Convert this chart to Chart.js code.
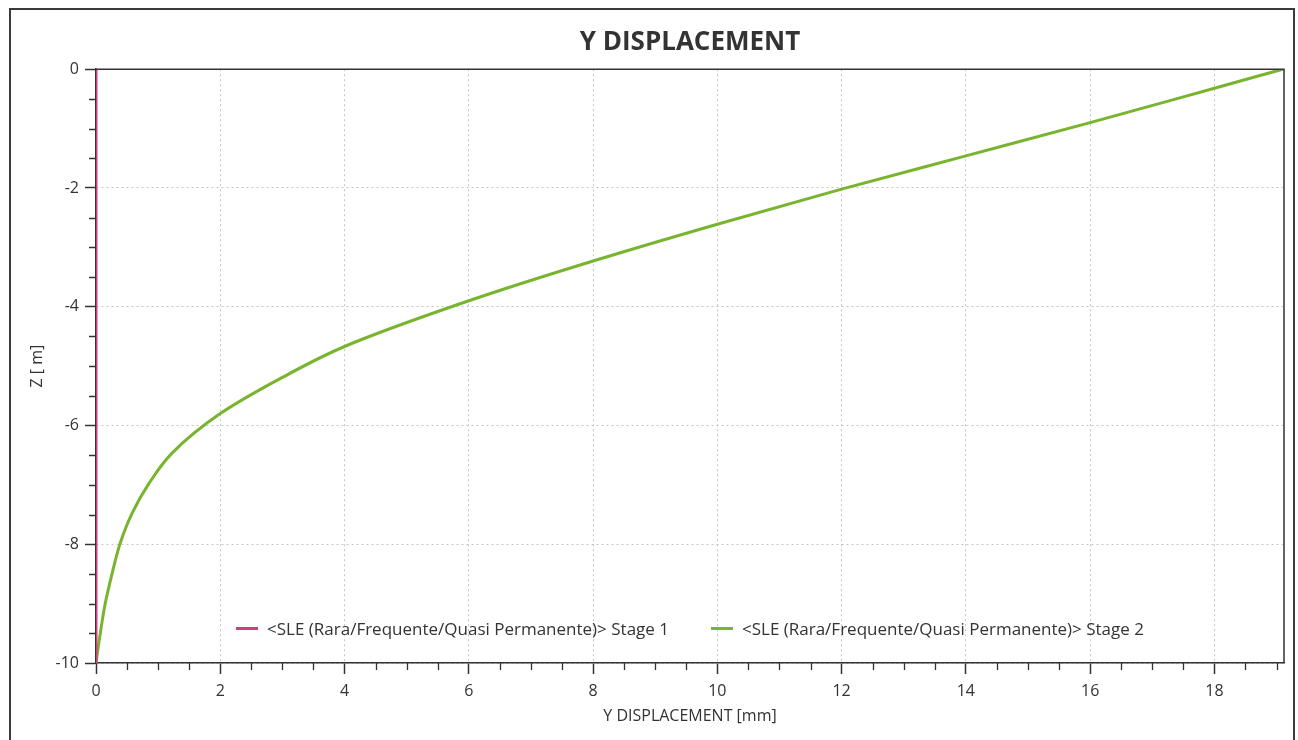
<!DOCTYPE html>
<html>
<head>
<meta charset="utf-8">
<title>Y DISPLACEMENT</title>
<script src="https://cdn.jsdelivr.net/npm/chart.js@4.4.0/dist/chart.umd.min.js"></script>
<style>
  html, body { margin: 0; padding: 0; background: #fff; }
  #frame {
    position: absolute; left: 9px; top: 8px; width: 1286px; height: 780px;
    border: 2px solid #3a3a3a; box-sizing: border-box;
  }
  #wrap { position: absolute; left: 0; top: 0; width: 1298px; height: 740px; }
  #legend {
    position: absolute; left: 96px; width: 1188px; top: 617px;
    display: flex; justify-content: center; gap: 42px;
    font-family: "Open Sans", sans-serif; font-size: 17px; color: #333;
  }
  .item { display: flex; align-items: center; white-space: nowrap; }
  .swatch { width: 22px; height: 3px; margin-right: 9px; }
</style>
</head>
<body>
<div id="frame"></div>
<div id="wrap"><canvas id="dispChart"></canvas></div>
<div id="legend"></div>
<script>
// Z levels along the pile [m] and Y displacement for each stage [mm]
const zLevels    = [0, -0.32, -0.9, -1.46, -2.02, -2.61, -3.23, -3.9, -4.67, -5.19, -5.8, -6.47, -6.98, -7.48, -7.98, -8.49, -8.99, -9.49, -10];
const stage1Disp = [0, 0, 0, 0, 0, 0, 0, 0, 0, 0, 0, 0, 0, 0, 0, 0, 0, 0, 0];
const stage2Disp = [19.1, 18, 16, 14, 12, 10, 8, 6, 4, 3, 2, 1.22, 0.85, 0.58, 0.39, 0.26, 0.15, 0.07, 0];
const seriesNames = [
  "<SLE (Rara/Frequente/Quasi Permanente)> Stage 1",
  "<SLE (Rara/Frequente/Quasi Permanente)> Stage 2"
];
const seriesColors = ["#d63c7d", "#78b42e"];

const FONT = "'Open Sans', sans-serif";

function toPoints(disp) {
  return disp.map((d, i) => ({ x: d, y: zLevels[i] }));
}

// frame on top/right of plot + minor tick marks every 0.5
const plotFrame = {
  id: "plotFrame",
  afterDraw(chart) {
    const { ctx, chartArea: a, scales } = chart;
    ctx.save();
    ctx.strokeStyle = "#333";
    ctx.lineWidth = 1.5;
    ctx.beginPath();
    ctx.moveTo(a.left, a.top);
    ctx.lineTo(a.right, a.top);
    ctx.lineTo(a.right, a.bottom);
    ctx.stroke();

    ctx.lineWidth = 1.3;
    ctx.beginPath();
    for (let v = 0.5; v <= scales.x.max + 1e-6; v += 0.5) {
      if (v % 2 === 0) continue;
      const px = Math.round(scales.x.getPixelForValue(v)) + 0.5;
      ctx.moveTo(px, a.bottom);
      ctx.lineTo(px, a.bottom + 7);
    }
    for (let v = -0.5; v >= scales.y.min - 1e-6; v -= 0.5) {
      if (v % 2 === 0) continue;
      const py = Math.round(scales.y.getPixelForValue(v)) + 0.5;
      ctx.moveTo(a.left, py);
      ctx.lineTo(a.left - 7, py);
    }
    ctx.stroke();
    ctx.restore();
  }
};

const ctxDisp = document.getElementById("dispChart").getContext("2d");
const dispChart = new Chart(ctxDisp, {
  type: "line",
  data: {
    datasets: [
      {
        label: seriesNames[0],
        data: toPoints(stage1Disp),
        borderColor: seriesColors[0],
        backgroundColor: seriesColors[0],
        borderWidth: 3,
        pointRadius: 0,
      },
      {
        label: seriesNames[1],
        data: toPoints(stage2Disp),
        borderColor: seriesColors[1],
        backgroundColor: seriesColors[1],
        borderWidth: 3,
        pointRadius: 0,
        cubicInterpolationMode: "monotone",
      },
    ],
  },
  options: {
    indexAxis: "y", // depth is the independent variable
    responsive: true,
    maintainAspectRatio: false,
    animation: false,
    layout: { padding: { left: 0, right: 14, top: 0, bottom: 0 } },
    plugins: {
      legend: { display: false },
      tooltip: { enabled: false },
      title: {
        display: true,
        text: "Y DISPLACEMENT",
        fullSize: false,
        color: "#333",
        font: { family: FONT, size: 26, weight: "bold", lineHeight: 1.2 },
        padding: { top: 27, bottom: 11 },
      },
    },
    scales: {
      x: {
        type: "linear",
        min: 0,
        max: 19.12,
        afterFit: (scale) => { scale.height = 77; },
        ticks: {
          stepSize: 2,
          includeBounds: false,
          padding: 8,
          color: "#333",
          font: { family: FONT, size: 16 },
        },
        grid: {
          color: "#c4c4c4",
          lineWidth: 1,
          tickColor: "#333",
          tickLength: 11,
          tickWidth: 1.5,
        },
        border: { color: "#333", width: 1.5, dash: [2, 3] },
        title: {
          display: true,
          text: "Y DISPLACEMENT [mm]",
          color: "#333",
          font: { family: FONT, size: 16 },
          padding: { top: 0, bottom: 14 },
        },
      },
      y: {
        type: "linear",
        min: -10,
        max: 0,
        afterFit: (scale) => { scale.width = 96; },
        ticks: {
          stepSize: 2,
          includeBounds: false,
          padding: 6,
          color: "#333",
          font: { family: FONT, size: 16 },
        },
        grid: {
          color: "#c4c4c4",
          lineWidth: 1,
          tickColor: "#333",
          tickLength: 11,
          tickWidth: 1.5,
        },
        border: { color: "#333", width: 1.5, dash: [2, 3] },
        title: {
          display: true,
          text: "Z [ m]",
          color: "#333",
          font: { family: FONT, size: 16 },
          padding: { top: 28, bottom: 0 },
        },
      },
    },
  },
  plugins: [plotFrame],
});

// HTML legend placed inside the plot, built from the datasets
const legendEl = document.getElementById("legend");
dispChart.data.datasets.forEach((ds) => {
  const item = document.createElement("div");
  item.className = "item";
  const sw = document.createElement("span");
  sw.className = "swatch";
  sw.style.background = ds.borderColor;
  const txt = document.createElement("span");
  txt.textContent = ds.label;
  item.appendChild(sw);
  item.appendChild(txt);
  legendEl.appendChild(item);
});
</script>
</body>
</html>
